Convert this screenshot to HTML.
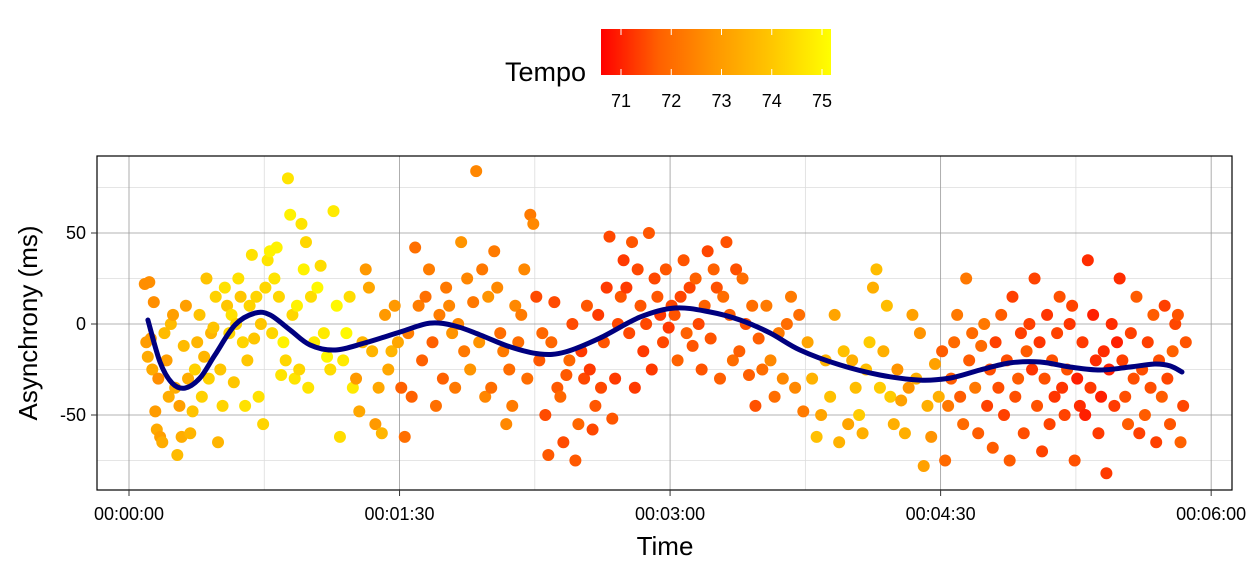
<!DOCTYPE html>
<html><head><meta charset="utf-8"><style>
html,body{margin:0;padding:0;background:#fff}
svg{display:block;font-family:"Liberation Sans",sans-serif}
</style></head><body>
<svg id="chart" width="1248" height="576" viewBox="0 0 1248 576" xmlns="http://www.w3.org/2000/svg">
<defs><linearGradient id="cg" x1="0" x2="1" y1="0" y2="0">
<stop offset="0" stop-color="#ff0000"/><stop offset="0.25" stop-color="#ff6000"/><stop offset="0.5" stop-color="#ff9800"/><stop offset="0.75" stop-color="#ffc800"/><stop offset="1" stop-color="#ffff00"/></linearGradient></defs>
<g>
<text x="586" y="81" font-size="27" text-anchor="end">Tempo</text>
<rect x="601" y="29" width="230" height="46" fill="url(#cg)"/>
<g id="cbticks"></g>
</g>
<g id="grid"></g>
<g id="points"></g>
<g id="smooth"></g>
<rect x="97" y="156" width="1135" height="334" fill="none" stroke="#000" stroke-width="1.2"/>
<g id="axes"></g>
<text x="665" y="555" font-size="26" text-anchor="middle">Time</text>
<text transform="translate(37,323) rotate(-90)" font-size="26" text-anchor="middle">Asynchrony (ms)</text>
</svg>
<script>
const NS="http://www.w3.org/2000/svg";
const xTicks=[0,90,180,270,360];
const xTickLabels=["00:00:00","00:01:30","00:03:00","00:04:30","00:06:00"];
const xMinor=[45,135,225,315];
const yTicks=[-50,0,50];
const yMinor=[-75,-25,25,75];
const cbTicks=[71,72,73,74,75];
const segmentStarts=[5,10,20,30,45,60,75,90,105,120,135,150,165,180,195,210,225,240,255,270,285,300,315,330,345];
const segmentEnds=[10,20,30,45,60,75,90,105,120,135,150,165,180,195,210,225,240,255,270,285,300,315,330,345,352];
const segmentTempos=[73.4,73.7,74.1,74.4,74.7,74.8,73.6,72.6,73.0,72.8,72.2,71.9,71.9,72.1,72.3,72.8,73.8,74.0,73.5,72.5,72.0,71.8,71.4,72.0,72.1];
const segmentValues=[
[22,-10,-18,23,-8,-25,12,-48,-58,-30],
[-62,-65,-5,-20,-40,0,5,-35,-72,-45,-62,-12,10,-30],
[-60,-48,-25,-10,5,-40,-18,25,-30,-5,-2,15,-65],
[-25,-45,20,10,-5,5,-32,0,25,15,-10,-45,-20,10,38,-8,15,-40,0,-55],
[20,35,40,-5,25,42,15,-28,-10,-20,80,60,5,-30,10,-25,55,30,45,-35],
[15,-10,20,32,-5,-18,-25,62,10,-62,-20,-5,15,-35],
[-30,-48,-10,30,20,-15,-55,-35,-60,5,-25,-15,10,-10],
[-35,-62,-5,-40,42,10,-20,15,30,-10,-45,5,-30],
[20,10,-5,-35,0,45,-15,25,-25,12,84,-10,30,-40,15],
[-35,40,20,-5,-15,-55,-25,-45,10,-10,5,30,-30,60,55],
[15,-20,-5,-50,-72,-10,12,-35,-40,-65,-28,-20,0,-75,-55],
[-15,-30,10,-25,-58,-45,5,-35,-10,20,48,-52,-30,0,15,35],
[20,-5,45,-35,30,10,-15,0,50,-25,25,15,5,-10,30,-2],
[10,5,-20,15,35,-5,20,-12,25,0,-25,10,40,-8,30],
[20,-30,15,45,5,-20,30,-15,25,0,-28,10,-45,-8],
[-25,10,-20,-40,-5,-30,0,15,-35,5,-48],
[-10,-30,-62,-50,-20,-40,5,-65,-15,-55],
[-20,-35,-50,-60,-25,-10,20,30,-35,-15,10,-40,-55],
[-25,-42,-60,-35,5,-30,-5,-78,-45,-62,-22,-40],
[-15,-75,-45,-30,-10,5,-40,-55,25,-20,-5,-35,-60,-12,0],
[-45,-25,-68,-10,-35,5,-50,-20,-75,15,-40,-30,-5,-60,-15,0],
[-25,25,-45,-10,-70,-30,5,-55,-20,-40,-5,15,-35,-50,-25,0,10,-75],
[-30,-45,-10,-50,35,-35,5,-20,-60,-40,-15,-82,-25,0,-45,-10,25],
[-20,-40,-55,-5,-30,15,-60,-25,-50,-10,-35,5,-65,-20,-40,10],
[-30,-55,-15,0,5,-65,-45,-10]];
const smoothT=[6.3,10.3,14.3,18.6,23.6,28.6,35.3,41.9,46.9,53.6,60.2,68.6,78.5,90.2,100.1,108.5,116.8,126.8,136.7,145.1,156.7,170,181.6,193.3,203.3,213.2,223.2,236.5,249.8,263.1,273.1,283.1,293.1,303.1,313,323,333,341.3,346.3,350.3];
const smoothY=[2.2,-20.9,-32.4,-35.2,-29.7,-17,-0.5,6,5,-3.3,-11.5,-14.3,-10.4,-4.4,0.5,-1.1,-6,-12.6,-16.5,-15.4,-7.7,3.8,8.8,6.6,2.2,-4.9,-14.3,-22.5,-28,-30.8,-29.7,-25.3,-21.4,-20.9,-23.6,-25.3,-23.6,-22,-23,-26.4];

const X=t=>129+t*3.006;
const Y=v=>324-v*1.82;
const CB=v=>621+(v-71)*50.25;
function col(tp){let f=(tp-70.6)/(75.18-70.6);f=Math.max(0,Math.min(1,f));return `rgb(255,${Math.round(255*f)},0)`;}
function mk(tag,attrs,parent){const e=document.createElementNS(NS,tag);for(const k in attrs)e.setAttribute(k,attrs[k]);parent.appendChild(e);return e;}
const grid=document.getElementById('grid'),axes=document.getElementById('axes'),pts=document.getElementById('points'),sm=document.getElementById('smooth'),cbt=document.getElementById('cbticks');
xMinor.forEach(t=>{const l=mk('line',{x1:X(t),x2:X(t),y1:156,y2:490,stroke:'#dcdcdc','stroke-width':0.8},grid);

});
yMinor.forEach(v=>{const l=mk('line',{x1:97,x2:1232,y1:Y(v),y2:Y(v),stroke:'#dcdcdc','stroke-width':0.8},grid);

});
xTicks.forEach((t,i)=>{const l=mk('line',{x1:X(t),x2:X(t),y1:156,y2:490,stroke:'#9a9a9a','stroke-width':0.8},grid);


const tk=mk('line',{x1:X(t),x2:X(t),y1:490,y2:496,stroke:'#333','stroke-width':1},axes);


const tx=mk('text',{x:X(t),y:520,'font-size':18,'text-anchor':'middle',fill:'#000'},axes);tx.textContent=xTickLabels[i];

});
yTicks.forEach(v=>{const l=mk('line',{x1:97,x2:1232,y1:Y(v),y2:Y(v),stroke:'#9a9a9a','stroke-width':0.8},grid);


const tk=mk('line',{x1:91,x2:97,y1:Y(v),y2:Y(v),stroke:'#333','stroke-width':1},axes);


const tx=mk('text',{x:86,y:Y(v)+6,'font-size':18,'text-anchor':'end',fill:'#000'},axes);tx.textContent=v;

});
cbTicks.forEach(v=>{const a=mk('line',{x1:CB(v),x2:CB(v),y1:29,y2:35,stroke:'#fff','stroke-width':1},cbt);


const b=mk('line',{x1:CB(v),x2:CB(v),y1:69,y2:75,stroke:'#fff','stroke-width':1},cbt);


const tx=mk('text',{x:CB(v),y:107,'font-size':18,'text-anchor':'middle'},cbt);tx.textContent=v;

});
segmentValues.forEach((vals,s)=>{const n=vals.length,t0=segmentStarts[s],t1=segmentEnds[s];
vals.forEach((v,i)=>{const t=t0+(t1-t0)*(i+0.5)/n;const tp=segmentTempos[s]+((i%3)-1)*0.25;
const c=mk('circle',{cx:X(t),cy:Y(v),r:6,fill:col(tp)},pts);

});});
const P=smoothT.map((t,i)=>[X(t),Y(smoothY[i])]);
let d='M'+P[0][0].toFixed(1)+','+P[0][1].toFixed(1);
for(let i=0;i<P.length-1;i++){const p0=P[Math.max(0,i-1)],p1=P[i],p2=P[i+1],p3=P[Math.min(P.length-1,i+2)];
const c1=[p1[0]+(p2[0]-p0[0])/6,p1[1]+(p2[1]-p0[1])/6],c2=[p2[0]-(p3[0]-p1[0])/6,p2[1]-(p3[1]-p1[1])/6];
d+=` C${c1[0].toFixed(1)},${c1[1].toFixed(1)} ${c2[0].toFixed(1)},${c2[1].toFixed(1)} ${p2[0].toFixed(1)},${p2[1].toFixed(1)}`;}
const p=mk('path',{d:d,fill:'none',stroke:'#00007f','stroke-width':5,'stroke-linejoin':'round','stroke-linecap':'round'},sm);


</script>
</body></html>
